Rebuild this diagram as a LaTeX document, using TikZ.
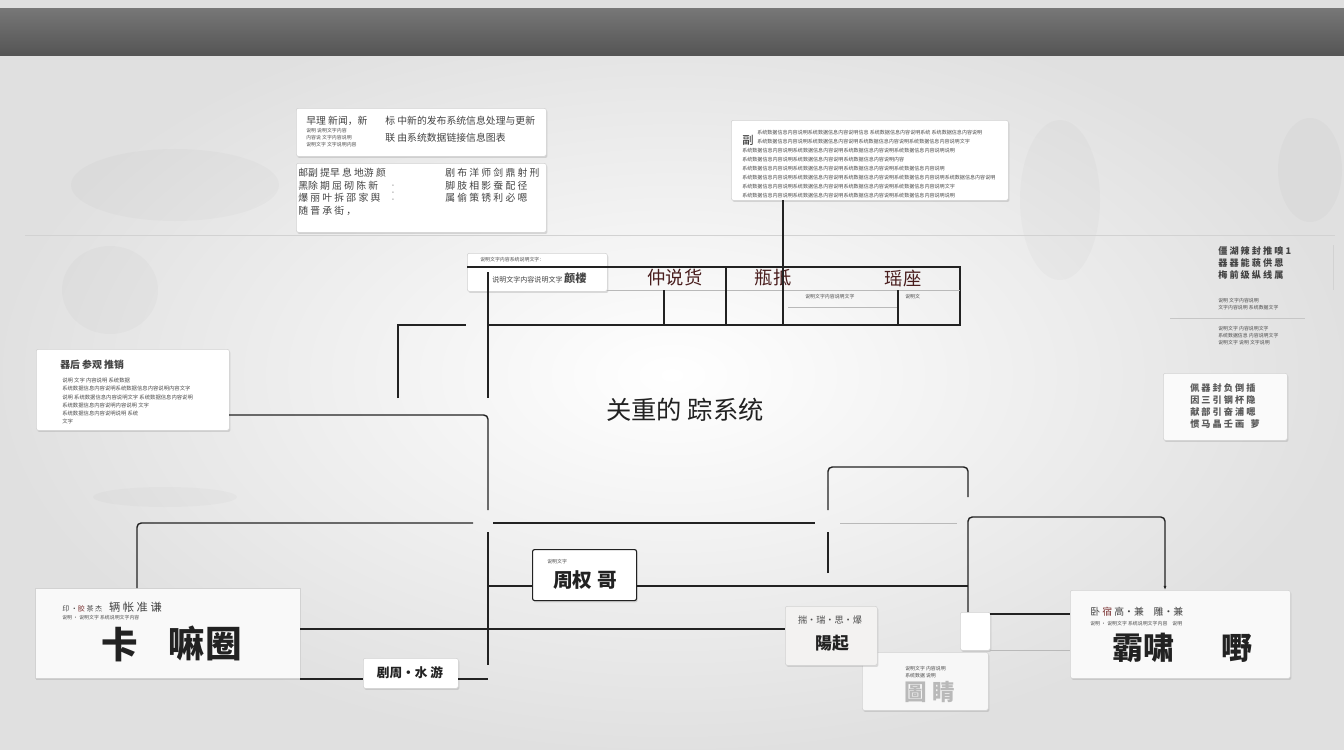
\documentclass[tikz,border=0pt]{standalone}
\usepackage{fontspec}
\newfontfamily\cjk{Noto Sans CJK SC}
\usetikzlibrary{shadows,arrows.meta}
\definecolor{bar}{HTML}{555555}
\definecolor{ink}{HTML}{222222}
\definecolor{rust}{HTML}{7A3030}
\newcommand\filltxt{系统数据信息内容说明}
\tikzset{
	card/.style={draw=gray!35, fill=white, rounded corners=1.5pt, inner sep=0pt, anchor=north west,
		drop shadow={opacity=0.25, shadow xshift=0.8pt, shadow yshift=-1.2pt}},
	link/.style={draw=ink, line width=1pt},
	hair/.style={draw=gray!55, line width=0.5pt},
	tiny/.style={font=\cjk\fontsize{3.5}{5}\selectfont, text=gray!60!black, align=left, inner sep=0pt},
	small/.style={font=\cjk\fontsize{7}{9}\selectfont, text=ink!85, align=left, inner sep=0pt},
	head/.style={font=\cjk\fontsize{13}{15}\selectfont, text=rust!60!black, inner sep=0pt},
	big/.style={font=\cjk\bfseries\fontsize{22}{24}\selectfont, text=ink, inner sep=0pt},
	blob/.style={fill=gray, opacity=0.045},
}
\begin{document}
\begin{tikzpicture}[x=0.025cm, y=-0.025cm]
	\useasboundingbox (0,0) rectangle (1344,750);
	\shade[inner color=white, outer color=gray!24] (0,0) rectangle (1344,750);
	\fill[gray!25] (0,0) rectangle (1344,8);
	\shade[top color=bar!80, bottom color=bar] (0,8) rectangle (1344,55);

	\fill[blob] (175,185) ellipse [x radius=2.6cm, y radius=0.9cm];
	\fill[blob] (110,290) ellipse [x radius=1.2cm, y radius=1.1cm];
	\fill[blob] (165,497) ellipse [x radius=1.8cm, y radius=0.25cm];
	\fill[blob] (1060,200) ellipse [x radius=1cm, y radius=2cm];
	\fill[blob] (1310,170) ellipse [x radius=0.8cm, y radius=1.3cm];

	\draw[hair, gray!35] (25,235) -- (1335,235);
	\draw[hair, gray!35] (1333,245) -- (1333,290);

	% boxes
	\node[card, minimum width=6.25cm, minimum height=1.2cm] (news) at (296,108) {};
	\node[card, minimum width=6.25cm, minimum height=1.725cm] (notes) at (296,163) {};
	\node[card, minimum width=6.925cm, minimum height=2cm] (memo) at (731,120) {};
	\node[card, minimum width=4.825cm, minimum height=2.025cm] (guide) at (36,349) {};
	\node[card, minimum width=3.5cm, minimum height=0.95cm] (tab) at (467,253) {};
	\node[card, minimum width=3.1cm, minimum height=1.675cm, fill=gray!4] (grid) at (1163,373) {};
	\node[card, draw=ink, line width=0.8pt, minimum width=2.6cm, minimum height=1.275cm] (hub) at (532,549) {};
	\node[card, minimum width=2.375cm, minimum height=0.75cm] (tag) at (363,658) {};
	\node[card, minimum width=6.625cm, minimum height=2.25cm, fill=gray!5, rounded corners=0pt] (leftcard) at (35,588) {};
	\node[card, minimum width=5.5cm, minimum height=2.2cm, fill=gray!5] (rightcard) at (1070,590) {};
	\node[card, minimum width=3.15cm, minimum height=1.45cm, fill=gray!6] (back) at (862,652) {};
	\node[card, minimum width=2.3cm, minimum height=1.475cm, fill=orange!8!gray!10] (front) at (785,606) {};
	\node[card, minimum width=0.75cm, minimum height=0.95cm, drop shadow={opacity=0}] (plug) at (960,612) {};

	% texts
	\node[font=\cjk\fontsize{18}{20}\selectfont, text=ink] (title) at (685,410) {关重的\ 踪系统};

	\node[small, anchor=west] (newsa) at (306,121) {早理 新闻，新};
	\node[tiny, anchor=north west] (newsb) at (306,128) {说明 说明文字内容\\内容说 文字内容说明\\说明文字 文字说明内容};
	\node[small, anchor=west] (newsc) at (385,121) {标\ 中新的发布系统信息处理与更新};
	\node[small, anchor=west] (newsd) at (385,138) {联\ 由系统数据链接信息图表};

	\node[small, anchor=north west] (notesa) at (298,168) {邮副 提早 息 地游 颜\\黑除 期 屈 砌 陈 新\\爆 丽 叶 拆 邵 家 舆\\随 晋 承 街 ，};
	\node[tiny, anchor=north] (notesb) at (393,185) {·\\·\\·};
	\node[small, anchor=north west] (notesc) at (445,168) {剧 布 洋 师 剑 鼎 射 刑\\脚 肢 相 影 蚕 配 径\\属 偷 策 锈 利 必 嗯};

	\node[font=\cjk\fontsize{8}{9}\selectfont, text=ink, inner sep=0pt] (memoicon) at (748,140) {副};
	\node[tiny, anchor=north west, font=\cjk\fontsize{3.6}{6.4}\selectfont] (memoa) at (757,130) {\filltxt\filltxt 信息\ \filltxt 系统\ \filltxt\\\filltxt\filltxt\filltxt\filltxt 文字};
	\node[tiny, anchor=north west, font=\cjk\fontsize{3.6}{6.4}\selectfont] (memob) at (742,148) {\filltxt\filltxt\filltxt\filltxt 说明\\\filltxt\filltxt\filltxt 内容\\\filltxt\filltxt\filltxt\filltxt\\\filltxt\filltxt\filltxt\filltxt\filltxt\\\filltxt\filltxt\filltxt\filltxt 文字\\\filltxt\filltxt\filltxt\filltxt 说明};

	\node[small, font=\cjk\bfseries\fontsize{7}{9}\selectfont, anchor=west] (guidea) at (60,365) {器后 参观 推销};
	\node[tiny, anchor=north west, font=\cjk\fontsize{3.8}{5.8}\selectfont] (guideb) at (62,378) {说明 文字 内容说明 系统数据\\\filltxt\filltxt 内容文字\\说明 \filltxt 文字 \filltxt\\\filltxt 内容说明 文字\\\filltxt 说明 系统\\文字};

	\node[tiny, anchor=west] (taba) at (480,260) {说明文字内容系统说明文字：};
	\node[small, anchor=west] (tabb) at (492,278) {\fontsize{5}{6}\selectfont 说明文字内容说明文字\ \fontsize{8}{9}\selectfont\bfseries 颜楼};
	\node[head] (colone) at (675,278) {仲说货};
	\node[head] (coltwo) at (773,278) {瓶抵};
	\node[head] (colthree) at (903,278) {瑶座};
	\node[tiny, anchor=west] (rowa) at (805,297) {说明文字内容说明文字};
	\node[tiny, anchor=west] (rowb) at (905,297) {说明文};

	\node[small, font=\cjk\bfseries\fontsize{6.5}{8.8}\selectfont, anchor=north west] (sidea) at (1218,246) {僵 湖 辣 封 推 嗅 1\\器 器 能 藐 供 恩\\梅 前 级 纵 线 属};
	\node[tiny, anchor=north west] (sideb) at (1218,298) {说明 文字内容说明\\文字内容说明 系统数据文字};
	\draw[hair, gray!45] (1170,318) -- (1305,318);
	\node[tiny, anchor=north west] (sidec) at (1218,326) {说明文字 内容说明文字\\系统数据信息 内容说明文字\\说明文字 说明 文字说明};

	\node[small, font=\cjk\bfseries\fontsize{6.5}{8.6}\selectfont, text=ink!75] (gridtxt) at (1225,406) {佩 器 封 负 倒 插\\因 三 引 钢 杯 隐\\献 部 引 奋 浦 嗯\\惯 马 晶 壬 画 \ \ 萝};

	\node[small, font=\cjk\bfseries\fontsize{14}{16}\selectfont, text=ink] (hubtxt) at (585,580) {周权\ 哥};
	\node[tiny, anchor=west] (hubsub) at (547,562) {说明文字};
	\node[small, font=\cjk\bfseries\fontsize{9}{10}\selectfont, text=ink] (tagtxt) at (410,673) {剧周·水\ 游};

	\node[small, anchor=west] (lefta) at (62,607) {\fontsize{5}{6}\selectfont 印\ ·\textcolor{rust}{胶} 茶 杰\quad \fontsize{8}{9}\selectfont 辆 帐 准 谦};
	\node[tiny, anchor=west] (leftb) at (62,618) {说明 · 说明文字 系统说明文字内容};
	\node[big, font=\cjk\bfseries\fontsize{26}{28}\selectfont] (lefthan) at (120,645) {卡};
	\node[big, font=\cjk\bfseries\fontsize{26}{28}\selectfont] (leftbig) at (205,643) {嘛圈};

	\node[small, anchor=west] (righta) at (1090,612) {\fontsize{7}{9}\selectfont 卧\ \textcolor{rust}{宿} 高·兼\quad 雕·兼};
	\node[tiny, anchor=west] (rightb) at (1090,624) {说明 · 说明文字 系统说明文字内容\quad 说明};
	\node[big] (rightbig) at (1143,648) {霸啸};
	\node[big] (righthan) at (1237,648) {嘢};

	\node[small, font=\cjk\fontsize{6.5}{8}\selectfont, text=ink!80] (fronta) at (830,620) {揣·瑞·思·爆};
	\node[small, font=\cjk\bfseries\fontsize{12}{13}\selectfont, text=ink] (frontb) at (832,643) {陽起};
	\node[tiny, anchor=west] (backa) at (905,672) {说明文字 内容说明\\系统数据 说明};
	\node[font=\cjk\bfseries\fontsize{16}{18}\selectfont, text=gray!55] (backb) at (930,692) {圖 睛};

	% table
	\draw[link] (467,267) -- (960,267) -- (960,325) -- (488,325);
	\draw[link] (488,272) -- (488,398);
	\draw[hair] (607,290) -- (960,290);
	\draw[hair] (788,307) -- (897,307);
	\draw[link] (664,290) -- (664,325);
	\draw[link] (726,267) -- (726,325);
	\draw[link] (898,290) -- (898,325);
	\draw[link] (398,398) -- (398,325) -- (466,325);

	% connectors
	\coordinate (memofoot) at (783,200);
	\coordinate (guideout) at (229,415);
	\coordinate (lefttop) at (137,588);
	\coordinate (leftout) at (300,629);
	\coordinate (leftlow) at (300,679);
	\coordinate (hubin) at (532,586);
	\coordinate (hubout) at (636,586);
	\coordinate (frontin) at (785,629);
	\coordinate (plugtop) at (968,612);
	\coordinate (plugout) at (990,614);
	\coordinate (pluglow) at (990,650);
	\coordinate (righttop) at (1165,590);
	\coordinate (rightin) at (1070,614);
	\coordinate (rightlow) at (1070,650);
	\coordinate (tagin) at (363,679);
	\coordinate (tagout) at (458,679);

	\draw[link] (memofoot) -- (783,325);
	\draw[link, rounded corners=3pt] (guideout) -- (488,415) -- (488,510);
	\draw[link] (488,532) -- (488,665);
	\draw[link, rounded corners=3pt] (lefttop) -- (137,523) -- (473,523);
	\draw[link] (493,523) -- (815,523);
	\draw[hair] (840,523) -- (957,523);
	\draw[link] (488,586) -- (hubin);
	\draw[link] (hubout) -- (968,586);
	\draw[link] (leftout) -- (frontin);
	\draw[link] (leftlow) -- (tagin);
	\draw[link] (tagout) -- (488,679);
	\draw[link] (828,573) -- (828,532);
	\draw[link, rounded corners=3pt] (828,510) -- (828,467) -- (968,467) -- (968,497);
	\draw[link, rounded corners=3pt, -{Latex[length=3pt]}] (plugtop) -- (968,517) -- (1165,517) -- (righttop);
	\draw[link] (plugout) -- (rightin);
	\draw[hair] (pluglow) -- (rightlow);
\end{tikzpicture}
\end{document}
